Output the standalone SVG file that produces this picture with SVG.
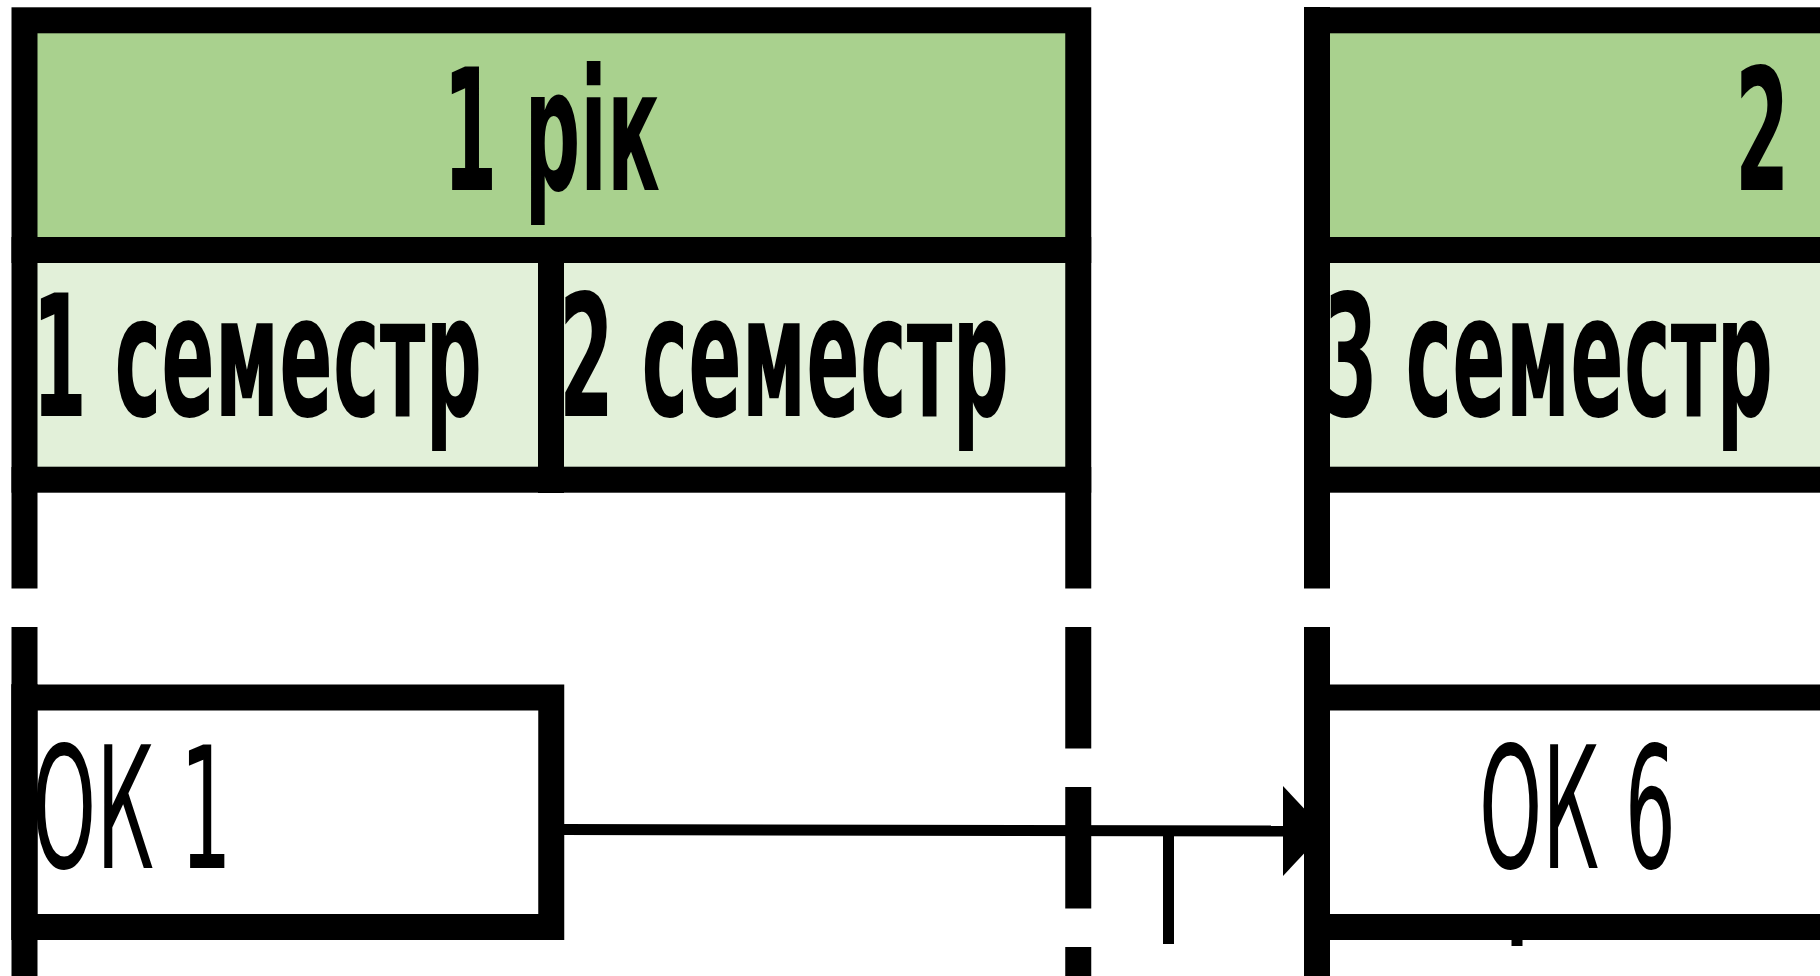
<svg xmlns="http://www.w3.org/2000/svg" width="1820" height="976" viewBox="0 0 1820 976">
<style>
.frame{stroke:#000;stroke-width:26;}
.yr{fill:#a9d18e;}
.sem{fill:#e2f0d9;}
.bold{font-family:"DejaVu Sans","Liberation Sans",sans-serif;font-weight:bold;font-size:169px;fill:#000;}
.reg{font-family:"DejaVu Sans","Liberation Sans",sans-serif;font-weight:normal;font-size:169px;fill:#000;}
.dash{stroke:#000;stroke-width:26;stroke-dasharray:121.5 38.5;fill:none;}
.solid{stroke:#000;stroke-width:26;fill:none;}
.conn{stroke:#000;stroke-width:11;fill:none;}
.box{fill:#fff;stroke:#000;stroke-width:26;}
</style>
<rect width="1820" height="976" fill="#fff"/>
<g id="guides">
<line class="dash" x1="24.5" y1="467" x2="24.5" y2="627"/>
<line class="solid" x1="24.5" y1="627" x2="24.5" y2="976"/>
<line class="dash" x1="1078.25" y1="467" x2="1078.25" y2="976"/>
<line class="dash" x1="1317" y1="467" x2="1317" y2="627"/>
<line class="solid" x1="1317" y1="627" x2="1317" y2="976"/>
</g>
<g id="year1">
<rect class="yr frame" x="24.5" y="20.3" width="1053.75" height="229.7"/>
<rect class="sem frame" x="24.5" y="250" width="526.5" height="229.7"/>
<rect class="sem frame" x="551" y="250" width="527.25" height="229.7"/>
<text class="bold" x="443" y="190" textLength="217" lengthAdjust="spacingAndGlyphs">1 рік</text>
</g>
<g id="sem1">
<text class="bold" x="32" y="416" textLength="450" lengthAdjust="spacingAndGlyphs">1 семестр</text>
</g>
<g id="sem2">
<text class="bold" x="559" y="416" textLength="450" lengthAdjust="spacingAndGlyphs">2 семестр</text>
<line x1="551" y1="237" x2="551" y2="493" stroke="#000" stroke-width="26"/>
</g>
<g id="year2">
<rect class="yr frame" x="1317" y="20.3" width="1053.75" height="229.7"/>
<rect class="sem frame" x="1317" y="250" width="526.5" height="229.7"/>
<text class="bold" x="1735" y="190" textLength="217" lengthAdjust="spacingAndGlyphs">2 рік</text>
</g>
<g id="sem3">
<text class="bold" x="1323" y="416" textLength="450" lengthAdjust="spacingAndGlyphs">3 семестр</text>
<line x1="1317" y1="7" x2="1317" y2="493" stroke="#000" stroke-width="26"/>
</g>
<g id="connectors">
<line class="conn" x1="564" y1="829.5" x2="1286" y2="831"/>
<polygon points="1283,786 1283,876 1325,831" fill="#000"/>
<line class="conn" x1="1168.5" y1="831" x2="1168.5" y2="944"/>
<line class="conn" x1="1517" y1="925" x2="1517" y2="946"/>
</g>
<g id="ok1">
<rect class="box" x="24.5" y="697.5" width="526.75" height="229.5"/>
<text class="reg" x="32" y="868" textLength="200" lengthAdjust="spacingAndGlyphs">ОК 1</text>
<line x1="24.5" y1="684" x2="24.5" y2="940" stroke="#000" stroke-width="26"/>
</g>
<g id="ok6">
<rect class="box" x="1317" y="697.5" width="526.5" height="229.5"/>
<text class="reg" x="1479" y="868" textLength="197" lengthAdjust="spacingAndGlyphs">ОК 6</text>
</g>
</svg>
